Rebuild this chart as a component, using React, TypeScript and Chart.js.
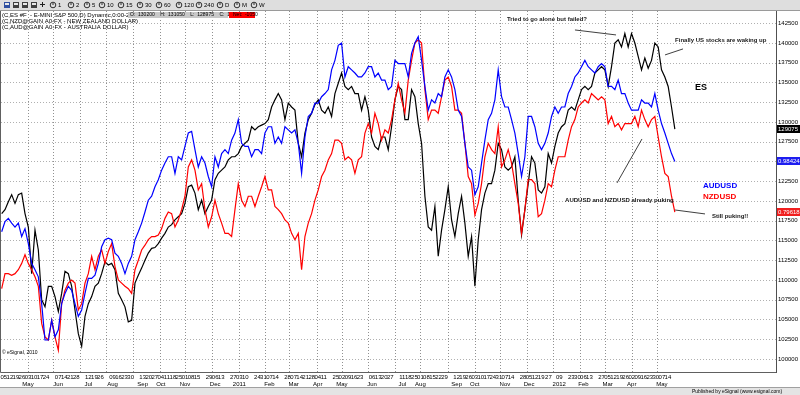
import React, { useEffect, useRef } from "react";
import { Chart, registerables } from "chart.js";

Chart.register(...registerables);

// ---------------- data ----------------
// weekday index 0 = 2010-04-05; values sampled every SAMPLE_STEP weekdays
const START_DATE = "2010-04-05";
const SAMPLE_OFFSET = -1.8;
const SAMPLE_STEP = 2.76;

// ES (E-mini S&P 500) daily close, index points
const esClose: number[] = [
  1184,1189,1199,1208,1197,1208,1210,1184,1167,1108,1163,1138,1075,1066,1092,1092,1079,1060,1083,1111,
  1108,1092,1062,1032,1016,1054,1070,1079,1092,1096,1108,1123,1119,1121,1113,1083,1075,1066,1047,1049,
  1096,1106,1115,1125,1134,1140,1141,1146,1153,1159,1167,1170,1176,1180,1184,1197,1218,1220,1210,1189,
  1201,1184,1193,1201,1227,1235,1239,1243,1252,1256,1256,1260,1269,1273,1277,1294,1290,1294,1296,1298,
  1303,1319,1328,1336,1328,1303,1324,1319,1315,1273,1256,1286,1303,1311,1322,1328,1315,1311,1319,1307,
  1336,1349,1362,1345,1341,1345,1336,1336,1315,1332,1315,1281,1269,1265,1281,1281,1265,1294,
  1328,1345,1341,1303,1303,1341,1332,1298,1273,1206,1167,1163,1193,1130,1163,1189,1218,1176,1155,1184,
  1206,1172,1130,1155,1092,1151,1189,1210,1222,1222,1239,1273,1265,1243,1239,1243,1256,1201,1157,1189,
  1222,1256,1248,1214,1210,1218,1260,1248,1269,1286,1294,1298,1315,1319,1315,1328,1341,1345,1341,
  1345,1362,1366,1370,1366,1345,1370,1400,1404,1395,1412,1395,1412,1400,1383,1366,1381,1368,1378,1400,
  1395,1366,1357,1345,1319,1291,
];

// AUDUSD overlay, plotted on the ES price scale
const audusdOverlay: number[] = [
  1161,1174,1178,1172,1167,1172,1155,1165,1146,1121,1113,1104,1070,1024,1024,1049,1028,1037,1070,1083,
  1092,1087,1070,1054,1062,1083,1102,1102,1106,1121,1142,1151,1153,1151,1134,1130,1121,1108,1121,1130,
  1151,1161,1172,1186,1201,1206,1218,1227,1239,1248,1256,1256,1235,1256,1252,1269,1286,1288,1265,1243,
  1256,1248,1231,1218,1256,1243,1260,1265,1260,1277,1286,1303,1273,1269,1269,1256,1265,1265,1260,1286,
  1294,1294,1273,1281,1273,1294,1290,1286,1290,1273,1235,1281,1307,1311,1324,1324,1332,1336,1341,1366,
  1378,1397,1400,1357,1370,1366,1362,1357,1357,1362,1370,1370,1357,1362,1353,1353,1341,1345,
  1378,1374,1374,1374,1357,1387,1400,1408,1378,1345,1315,1328,1324,1336,1332,1357,1366,1357,1341,1315,
  1307,1273,1243,1239,1208,1218,1248,1277,1303,1311,1328,1366,1332,1319,1319,1303,1286,1260,1231,1256,
  1307,1307,1294,1273,1265,1273,1286,1307,1319,1311,1319,1319,1336,1345,1357,1362,1370,1378,1370,
  1366,1362,1370,1374,1370,1345,1345,1341,1353,1336,1336,1324,1315,1315,1315,1328,1324,1324,1319,1336,
  1315,1298,1286,1273,1260,1250,
];

// NZDUSD overlay, plotted on the ES price scale
const nzdusdOverlay: number[] = [
  1089,1108,1108,1106,1108,1113,1121,1132,1121,1113,1104,1092,1045,1028,1024,1049,1028,1011,1070,1087,
  1096,1100,1096,1062,1070,1096,1108,1130,1113,1130,1138,1121,1136,1146,1117,1100,1096,1092,1089,1083,
  1113,1125,1138,1144,1151,1155,1155,1157,1165,1178,1186,1184,1167,1176,1189,1206,1243,1252,1239,1214,
  1222,1189,1167,1180,1201,1184,1172,1159,1159,1155,1189,1222,1201,1193,1206,1206,1193,1206,1218,1231,
  1214,1214,1193,1189,1184,1176,1172,1159,1151,1159,1113,1155,1172,1184,1201,1214,1231,1239,1252,1260,
  1277,1277,1273,1252,1256,1252,1235,1252,1256,1286,1298,1286,1311,1298,1277,1290,1286,1303,
  1328,1349,1328,1311,1353,1378,1400,1404,1400,1341,1303,1315,1315,1311,1332,1353,1357,1345,1315,1315,
  1311,1273,1231,1222,1182,1197,1222,1256,1273,1265,1260,1294,1243,1252,1265,1248,1222,1197,1159,1189,
  1227,1227,1222,1180,1184,1201,1222,1218,1239,1256,1256,1256,1277,1294,1303,1319,1324,1328,1324,
  1336,1332,1328,1332,1328,1298,1307,1294,1298,1290,1298,1298,1298,1307,1294,1315,1303,1294,1303,1307,
  1281,1256,1235,1231,1206,1186,
];

const yTickValues = [1000,1025,1050,1075,1100,1125,1150,1175,1200,1225,1250,1275,1300,1325,1350,1375,1400,1425];

const dayLabelDates = [
  "2010-04-05","2010-04-12","2010-04-19","2010-04-26","2010-05-03","2010-05-10","2010-05-17","2010-05-24",
  "2010-06-07","2010-06-14","2010-06-21","2010-06-28","2010-07-12","2010-07-19","2010-07-26","2010-08-09",
  "2010-08-16","2010-08-23","2010-08-30","2010-09-13","2010-09-20","2010-09-27","2010-10-04","2010-10-11",
  "2010-10-18","2010-10-25","2010-11-01","2010-11-08","2010-11-15","2010-11-29","2010-12-06","2010-12-13",
  "2010-12-27","2011-01-03","2011-01-10","2011-01-24","2011-01-31","2011-02-07","2011-02-14","2011-02-28",
  "2011-03-07","2011-03-14","2011-03-21","2011-03-28","2011-04-04","2011-04-11","2011-04-25","2011-05-02",
  "2011-05-09","2011-05-16","2011-05-23","2011-06-06","2011-06-13","2011-06-20","2011-06-27","2011-07-11",
  "2011-07-18","2011-07-25","2011-08-01","2011-08-08","2011-08-15","2011-08-22","2011-08-29","2011-09-12",
  "2011-09-19","2011-09-26","2011-10-03","2011-10-10","2011-10-17","2011-10-24","2011-10-31","2011-11-07",
  "2011-11-14","2011-11-28","2011-12-05","2011-12-12","2011-12-19","2011-12-27","2012-01-09","2012-01-23",
  "2012-01-30","2012-02-06","2012-02-13","2012-02-27","2012-03-05","2012-03-12","2012-03-19","2012-03-26",
  "2012-04-02","2012-04-09","2012-04-16","2012-04-23","2012-04-30","2012-05-07","2012-05-14",
];

const monthLabelDates = [
  "2010-05-03","2010-06-07","2010-07-12","2010-08-09","2010-09-13","2010-10-04","2010-11-01","2010-12-06",
  "2011-01-03","2011-02-07","2011-03-07","2011-04-04","2011-05-02","2011-06-06","2011-07-11","2011-08-01",
  "2011-09-12","2011-10-03","2011-11-07","2011-12-05","2012-01-09","2012-02-06","2012-03-05","2012-04-02",
  "2012-05-07",
];
const monthLabelTexts = [
  "May","Jun","Jul","Aug","Sep","Oct","Nov","Dec","2011","Feb","Mar","Apr","May","Jun","Jul","Aug",
  "Sep","Oct","Nov","Dec","2012","Feb","Mar","Apr","May",
];

const lastValueTexts = ["129075", "0.98424", "0.79618"];
const toolbarIntervals = ["1","2","5","10","15","30","60","120","240","D","M","W"];

// ---------------- helpers ----------------
function weekdayIndex(iso: string): number {
  const [y, m, d] = iso.split("-").map(Number);
  const [y0, m0, d0] = START_DATE.split("-").map(Number);
  const days = Math.round((Date.UTC(y, m - 1, d) - Date.UTC(y0, m0 - 1, d0)) / 86400000);
  const weeks = Math.floor(days / 7);
  const rem = days - weeks * 7;
  return weeks * 5 + Math.min(rem, 5);
}

function monthStarts(): string[] {
  const out: string[] = [];
  for (let y = 2010, m = 5; y < 2012 || (y === 2012 && m <= 5); ) {
    out.push(`${y}-${String(m).padStart(2, "0")}-01`);
    m++;
    if (m > 12) { m = 1; y++; }
  }
  return out;
}

const toPoints = (arr: number[]) => arr.map((v, i) => ({ x: SAMPLE_OFFSET + i * SAMPLE_STEP, y: v }));

const FONT = "'Liberation Sans', Arial, sans-serif";

const decor = {
  id: "decor",
  beforeDraw(chart: any) {
    const ctx = chart.ctx;
    ctx.save();
    ctx.fillStyle = "#ffffff";
    ctx.fillRect(0, 0, chart.width, chart.height);
    ctx.restore();
  },
  beforeDatasetsDraw(chart: any) {
    const { ctx, chartArea: ca, scales } = chart;
    const xs = scales.x, ys = scales.y;
    ctx.save();
    ctx.lineWidth = 1;
    ctx.strokeStyle = "#b0b0b0";
    ctx.setLineDash([1, 2]);
    for (const v of yTickValues) {
      const y = Math.round(ys.getPixelForValue(v)) + 0.5;
      ctx.beginPath(); ctx.moveTo(ca.left, y); ctx.lineTo(ca.right, y); ctx.stroke();
    }
    ctx.strokeStyle = "#909090";
    for (const d of monthStarts()) {
      const x = Math.round(xs.getPixelForValue(weekdayIndex(d))) + 0.5;
      ctx.beginPath(); ctx.moveTo(x, ca.top); ctx.lineTo(x, ca.bottom); ctx.stroke();
    }
    ctx.restore();
  },
  afterDraw(chart: any) {
    const { ctx, chartArea: ca, scales } = chart;
    const xs = scales.x, ys = scales.y;
    const P = (w: number, v: number) => [xs.getPixelForValue(w), ys.getPixelForValue(v)];
    ctx.save();

    // frame
    ctx.strokeStyle = "#606060";
    ctx.lineWidth = 1;
    ctx.beginPath();
    ctx.moveTo(0.5, ca.top); ctx.lineTo(0.5, ca.bottom + 0.5); ctx.lineTo(ca.right, ca.bottom + 0.5);
    ctx.stroke();

    // toolbar
    ctx.fillStyle = "#dedede";
    ctx.fillRect(0, 0, chart.width, 10);
    ctx.strokeStyle = "#9a9a9a";
    ctx.beginPath(); ctx.moveTo(0, 10.5); ctx.lineTo(chart.width, 10.5); ctx.stroke();
    const iconCols = ["#3050a0", "#404040", "#404040", "#404040"];
    iconCols.forEach((c, i) => {
      ctx.fillStyle = c;
      ctx.fillRect(4 + i * 9, 2, 6, 6);
      ctx.fillStyle = "#e8e8e8";
      ctx.fillRect(5 + i * 9, 3, 4, 2);
    });
    ctx.fillStyle = "#202020";
    ctx.fillRect(40, 4, 5, 1); ctx.fillRect(42, 2, 1, 5);
    const tbX = [53, 71, 87, 102, 121, 140, 159, 179, 199, 220, 237, 254];
    ctx.font = `6px ${FONT}`;
    ctx.textBaseline = "middle";
    ctx.textAlign = "left";
    toolbarIntervals.forEach((t, i) => {
      ctx.strokeStyle = "#303030";
      ctx.beginPath(); ctx.arc(tbX[i], 5, 2.8, 0, Math.PI * 2); ctx.stroke();
      ctx.beginPath(); ctx.moveTo(tbX[i], 5); ctx.lineTo(tbX[i], 3); ctx.stroke();
      ctx.fillStyle = "#000";
      ctx.fillText(t, tbX[i] + 5, 5.5);
    });

    // header
    ctx.fillStyle = "#000";
    ctx.fillText("(C,ES #F  - E-MINI S&P 500,D) Dynamic,0:00-24:00", 2, 15);
    ctx.fillStyle = "#c8c8c8";
    ctx.fillRect(128, 12, 100, 6);
    ctx.fillStyle = "#000";
    ctx.font = `5px ${FONT}`;
    ctx.fillText("O:  130200    H:  131050    L:  128975    C:  129075", 130, 15);
    ctx.fillStyle = "#ff0000";
    ctx.fillRect(229, 12, 26, 6);
    ctx.fillStyle = "#000";
    ctx.fillText("Net:  -1050", 233, 15);
    ctx.font = `6px ${FONT}`;
    ctx.fillText("(C,NZD@GAIN A0-FX - NEW ZEALAND DOLLAR)", 2, 21.5);
    ctx.fillText("(C,AUD@GAIN A0-FX - AUSTRALIA DOLLAR)", 2, 27.5);

    // x axis labels
    ctx.textAlign = "center";
    ctx.font = `6px ${FONT}`;
    for (const d of dayLabelDates) {
      const x = xs.getPixelForValue(weekdayIndex(d));
      ctx.fillText(d.slice(8), x, 377);
    }
    monthLabelDates.forEach((d, i) => {
      const x = xs.getPixelForValue(weekdayIndex(d));
      ctx.fillText(monthLabelTexts[i], x, 384);
    });

    // footer
    ctx.fillStyle = "#e4e4e4";
    ctx.fillRect(0, 388, chart.width, 7);
    ctx.strokeStyle = "#a0a0a0";
    ctx.beginPath(); ctx.moveTo(0, 387.5); ctx.lineTo(chart.width, 387.5); ctx.stroke();
    ctx.textAlign = "left";
    ctx.fillStyle = "#000";
    ctx.font = `5px ${FONT}";`;
    ctx.font = `5px ${FONT}`;
    ctx.fillText("Published by eSignal (www.esignal.com)", 692, 391.5);
    ctx.fillText("\u00a9 eSignal, 2010", 2, 353);

    // last value boxes
    const lastVals = [esClose[esClose.length - 1], audusdOverlay[audusdOverlay.length - 1], nzdusdOverlay[nzdusdOverlay.length - 1]];
    const boxCols = ["#000000", "#1e1ef0", "#f01e1e"];
    lastVals.forEach((v, i) => {
      const y = ys.getPixelForValue(v);
      ctx.fillStyle = boxCols[i];
      ctx.fillRect(ca.right + 1, Math.round(y) - 4, 24, 8);
      ctx.fillStyle = "#ffffff";
      ctx.font = `6px ${FONT}`;
      ctx.fillText(lastValueTexts[i], ca.right + 2, Math.round(y));
    });

    // annotations
    ctx.fillStyle = "#202020";
    ctx.font = `bold 6px ${FONT}`;
    const txt = (s: string, w: number, v: number) => { const [x, y] = P(w, v); ctx.fillText(s, x, y); };
    txt("Tried to go alone but failed?", 416.7, 1430.4);
    txt("Finally US stocks are waking up", 555.9, 1403.2);
    txt("AUDUSD and NZDUSD already puking", 464.8, 1201.3);
    txt("Still puking!!", 586.5, 1181.0);
    ctx.strokeStyle = "#404040";
    ctx.lineWidth = 1;
    const seg = (w1: number, v1: number, w2: number, v2: number) => {
      const [x1, y1] = P(w1, v1); const [x2, y2] = P(w2, v2);
      ctx.beginPath(); ctx.moveTo(x1, y1); ctx.lineTo(x2, y2); ctx.stroke();
    };
    seg(473.0, 1416.5, 507.0, 1410.2);
    seg(547.6, 1384.9, 562.5, 1392.5);
    seg(507.8, 1222.8, 528.5, 1278.5);
    seg(555.9, 1188.6, 580.7, 1183.6);
    ctx.font = `bold 9px ${FONT}`;
    ctx.fillStyle = "#000";
    txt("ES", 572.4, 1343.1);
    ctx.font = `bold 8px ${FONT}`;
    ctx.fillStyle = "#0000ff";
    txt("AUDUSD", 579.0, 1219.0);
    ctx.fillStyle = "#ff0000";
    txt("NZDUSD", 579.0, 1205.1);
    ctx.restore();
  },
};

export default function App() {
  const ref = useRef<HTMLCanvasElement | null>(null);
  useEffect(() => {
    if (!ref.current) return;
    const chart = new Chart(ref.current, {
      type: "line",
      data: {
        datasets: [
          { label: "AUDUSD", data: toPoints(audusdOverlay), borderColor: "#0000ff", borderWidth: 1.2, pointRadius: 0, tension: 0 },
          { label: "NZDUSD", data: toPoints(nzdusdOverlay), borderColor: "#ff0000", borderWidth: 1.2, pointRadius: 0, tension: 0 },
          { label: "ES", data: toPoints(esClose), borderColor: "#000000", borderWidth: 1.2, pointRadius: 0, tension: 0 },
        ],
      },
      options: {
        animation: false,
        responsive: false,
        devicePixelRatio: 1,
        layout: { padding: { left: 1, top: 11, right: 0, bottom: 23 } },
        plugins: { legend: { display: false }, tooltip: { enabled: false } },
        scales: {
          x: { type: "linear", min: -2.36, max: 639.5, display: false },
          y: {
            type: "linear",
            position: "right",
            min: 983.5,
            max: 1440.5,
            grid: { display: false, drawTicks: false },
            border: { display: true, color: "#505050", width: 1 },
            afterFit: (s: any) => { s.width = 24; },
            afterBuildTicks: (s: any) => { s.ticks = yTickValues.map((v) => ({ value: v })); },
            ticks: {
              padding: 2,
              color: "#000",
              font: { size: 6, family: FONT },
              callback: (v: any) => String(Math.round(Number(v) * 100)),
            },
          },
        },
      },
      plugins: [decor],
    });
    return () => chart.destroy();
  }, []);
  return (
    <div style={{ position: "fixed", left: 0, top: 0, width: 800, height: 395, background: "#fff" }}>
      <canvas ref={ref} width={800} height={395} style={{ display: "block" }} />
    </div>
  );
}
